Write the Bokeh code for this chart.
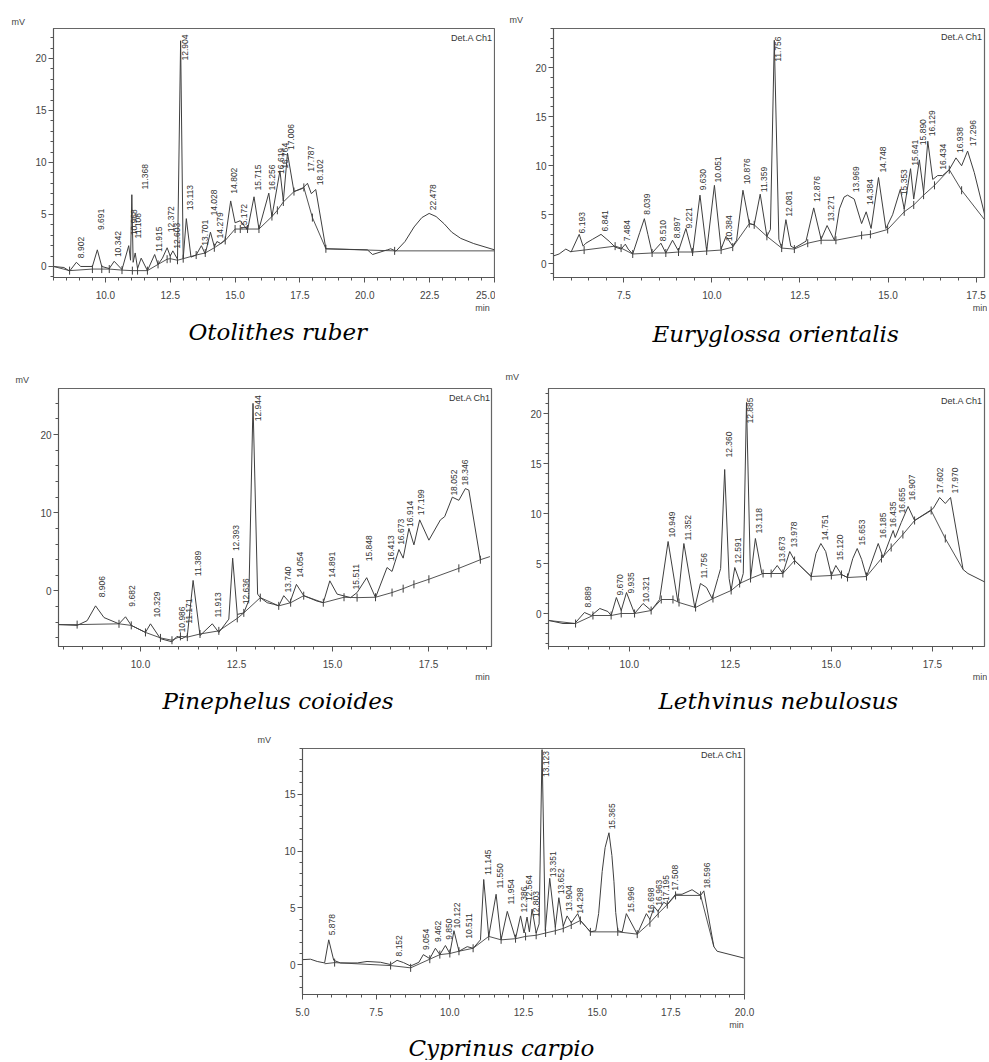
import numpy as np
from bokeh.plotting import figure
from bokeh.models import (Range1d, SingleIntervalTicker, FixedTicker, PrintfTickFormatter, Label,
                          Spacer, Title, LinearAxis)
from bokeh.layouts import column, row
from bokeh.core.properties import value
from bokeh.embed import file_html
from bokeh.resources import INLINE

# ---------------- data (time in min, signal in mV) ----------------
# Otolithes ruber
or_trace = [(8.00,0.0),(8.40,-0.1),(8.62,-0.45),(8.88,0.4),(9.05,0.0),(9.50,0.0),(9.69,1.6),(9.86,0.0),
            (10.15,-0.2),(10.34,0.5),(10.64,-0.3),(10.90,2.0),(10.97,0.6),(11.02,6.9),(11.07,0.4),(11.15,1.3),
            (11.24,-0.2),(11.38,0.8),(11.62,-0.4),(11.90,1.15),(12.03,0.2),(12.20,0.8),(12.38,1.8),(12.50,1.0),
            (12.60,1.5),(12.78,0.7),(12.90,21.7),(13.00,0.75),(13.12,4.6),(13.30,0.9),(13.50,1.1),(13.70,2.0),
            (13.85,1.2),(14.05,3.3),(14.20,1.9),(14.30,2.4),(14.45,2.2),(14.62,2.6),(14.83,6.3),(15.00,4.2),
            (15.20,4.4),(15.48,3.5),(15.73,6.7),(15.92,3.6),(16.30,7.05),(16.42,4.8),(16.73,9.2),(16.86,6.3),
            (17.02,10.9),(17.27,7.2),(17.60,7.5),(17.79,8.0),(17.94,7.0),(18.11,7.4),(18.50,1.7),(20.10,1.6),
            (20.30,1.15),(20.87,1.6),(21.00,1.7),(21.20,1.47),(21.55,2.4),(21.90,3.8),(22.20,4.7),(22.48,5.1),
            (22.75,4.8),(23.06,4.1),(23.35,3.3),(23.70,2.7),(24.20,2.2),(25.00,1.6)]
or_base = [(8.00,0.0),(8.62,-0.4),(9.50,-0.25),(9.86,-0.25),(10.15,-0.25),(10.64,-0.35),(11.04,-0.4),
           (11.24,-0.4),(11.62,-0.4),(12.03,0.2),(12.38,0.7),(12.50,0.75),(12.78,0.6),(13.00,0.75),(13.50,1.1),
           (13.85,1.3),(14.20,1.8),(14.62,2.5),(15.00,3.6),(15.20,3.6),(15.48,3.6),(15.92,3.6),(16.42,4.8),
           (16.63,5.4),(16.86,6.2),(17.27,7.2),(17.65,7.6),(17.98,4.7),(18.50,1.7),(21.15,1.5),(25.00,1.5)]
or_rt = ["8.902","9.691","10.342","10.968","11.108","11.368","11.915","12.372","12.603","12.904","13.113",
         "13.701","14.028","14.279","14.802","15.172","15.715","16.256","16.619","16.764","17.006","17.787",
         "18.102","22.478"]
or_lab = [0.8,3.5,0.9,3.0,2.7,7.4,1.4,3.3,1.7,19.8,5.4,2.0,4.9,2.7,7.0,3.5,7.3,7.3,8.9,9.4,11.2,9.1,7.8,5.4]

# Euryglossa orientalis
eo_trace = [(5.50,0.8),(5.66,1.0),(5.85,1.5),(6.00,1.2),(6.23,3.0),(6.34,1.8),(6.42,2.1),(6.61,2.5),
            (6.85,3.0),(7.08,2.3),(7.25,1.7),(7.42,1.5),(7.54,2.0),(7.62,1.5),(7.75,1.0),(7.95,3.2),(8.08,4.6),
            (8.18,3.0),(8.30,1.1),(8.55,2.1),(8.69,1.1),(8.88,2.4),(9.05,1.3),(9.26,3.6),(9.45,1.0),(9.66,7.0),
            (9.85,1.3),(10.07,8.0),(10.26,1.5),(10.40,2.8),(10.59,1.8),(10.70,2.4),(10.88,7.5),(11.06,4.1),
            (11.20,3.97),(11.37,7.1),(11.56,2.8),(11.66,3.5),(11.77,22.8),(11.90,2.5),(11.98,1.6),(12.10,4.5),
            (12.24,1.8),(12.34,1.6),(12.67,2.3),(12.89,5.7),(13.10,2.5),(13.27,3.9),(13.48,2.4),(13.62,5.6),
            (13.75,6.8),(13.85,7.0),(14.04,6.6),(14.25,4.1),(14.38,5.3),(14.52,3.6),(14.73,8.8),(14.94,3.6),
            (15.13,5.0),(15.35,7.6),(15.46,5.6),(15.64,9.7),(15.73,6.6),(15.89,10.6),(16.01,7.3),(16.13,12.5),
            (16.27,8.6),(16.41,9.0),(16.55,9.0),(16.74,9.6),(16.93,10.8),(17.09,10.0),(17.26,11.5),(17.45,9.3),
            (17.78,4.5),(17.93,4.3)]
eo_base = [(5.99,1.24),(6.37,1.4),(7.25,1.8),(7.42,1.6),(7.75,1.0),(8.30,1.1),(8.69,1.1),(9.05,1.2),
           (9.45,1.2),(9.85,1.3),(10.26,1.4),(10.59,1.7),(11.06,4.1),(11.20,3.97),(11.56,2.8),(11.98,1.6),
           (12.34,1.5),(12.72,2.1),(13.10,2.4),(13.52,2.4),(14.25,2.9),(14.50,3.0),(14.99,3.5),(15.46,5.3),
           (15.73,6.0),(16.01,7.0),(16.32,8.0),(16.74,9.6),(17.09,7.5),(17.74,4.5)]
eo_rt = ["6.193","6.841","7.484","8.039","8.510","8.897","9.221","9.630","10.051","10.384","10.876","11.359",
         "11.756","12.081","12.876","13.271","13.969","14.384","14.748","15.353","15.641","15.890","16.129",
         "16.434","16.938","17.296"]
eo_lab = [3.1,3.3,2.3,5.0,2.3,2.6,3.6,7.5,8.3,2.3,8.1,7.3,20.6,4.8,6.3,4.3,7.3,6.0,9.3,7.0,10.0,12.1,13.0,
          9.6,11.3,12.0]

# Pinephelus coioides
pc_trace = [(7.87,-4.3),(8.35,-4.4),(8.61,-3.8),(8.83,-1.9),(9.05,-3.4),(9.44,-4.2),(9.61,-3.3),(9.76,-4.4),
            (10.13,-5.3),(10.26,-4.2),(10.52,-6.1),(10.82,-6.5),(10.95,-5.8),(11.08,-6.1),(11.22,-5.7),
            (11.37,1.35),(11.55,-5.7),(11.87,-4.2),(12.04,-5.3),(12.30,-3.6),(12.40,4.2),(12.52,-3.0),
            (12.69,-2.8),(12.82,-1.2),(12.93,24.0),(13.05,-0.4),(13.12,-0.85),(13.30,-1.5),(13.47,-1.7),
            (13.60,-1.9),(13.73,-0.6),(13.89,-1.5),(14.06,0.85),(14.25,-0.6),(14.60,-1.3),(14.76,-1.5),
            (14.93,1.3),(15.12,-0.4),(15.47,-0.85),(15.64,-0.2),(15.89,1.7),(16.12,-0.85),(16.42,3.0),
            (16.55,2.5),(16.73,5.3),(16.84,4.2),(16.99,8.0),(17.12,5.9),(17.27,9.1),(17.51,6.5),(17.81,9.1),
            (17.92,9.5),(18.12,12.0),(18.29,11.6),(18.46,13.1),(18.55,12.9),(18.85,4.0)]
pc_base = [(7.87,-4.3),(8.35,-4.3),(9.44,-4.2),(9.76,-4.4),(10.13,-5.3),(10.52,-6.0),(10.82,-6.3),
           (11.04,-5.8),(11.22,-5.9),(11.55,-5.5),(12.04,-5.1),(12.52,-3.5),(12.69,-2.8),(13.12,-0.85),
           (13.60,-1.9),(13.91,-1.5),(14.25,-0.6),(14.76,-1.5),(15.30,-0.8),(15.64,-0.85),(16.12,-0.8),
           (16.55,-0.2),(16.84,0.3),(17.12,0.85),(17.51,1.5),(18.29,2.9),(18.85,4.0),(19.10,4.4)]
pc_rt = ["8.906","9.682","10.329","10.986","11.171","11.389","11.913","12.393","12.636","12.944","13.740",
         "14.054","14.891","15.511","15.848","16.413","16.673","16.914","17.199","18.052","18.346"]
pc_lab = [-0.8,-2.0,-3.4,-5.3,-4.2,1.9,-3.4,5.1,-1.7,21.7,-0.2,1.7,1.7,0.2,3.8,3.8,5.9,8.2,9.7,12.2,13.5]

# Lethvinus nebulosus
ln_trace = [(8.01,-0.7),(8.36,-1.0),(8.65,-1.0),(8.89,0.1),(9.06,-0.2),(9.27,0.5),(9.47,0.2),(9.55,-0.2),
            (9.68,1.6),(9.80,0.3),(9.93,2.1),(10.13,0.0),(10.34,1.0),(10.54,0.3),(10.75,1.4),(10.96,7.2),
            (11.20,1.2),(11.35,7.0),(11.62,0.6),(11.76,3.0),(11.91,2.6),(12.05,1.5),(12.19,3.5),(12.26,4.5),
            (12.36,14.4),(12.47,3.5),(12.52,2.3),(12.61,4.6),(12.75,3.0),(12.82,4.0),(12.90,21.1),(13.00,3.5),
            (13.12,7.5),(13.28,4.0),(13.51,4.0),(13.66,4.8),(13.80,4.0),(13.97,6.2),(14.09,5.3),(14.50,3.7),
            (14.62,6.0),(14.74,7.0),(14.86,6.2),(15.00,3.8),(15.11,4.8),(15.25,3.9),(15.40,3.6),(15.53,5.5),
            (15.64,6.5),(15.75,5.4),(15.87,3.7),(16.16,7.0),(16.28,5.6),(16.53,8.3),(16.58,7.6),(16.73,9.1),
            (16.90,10.7),(17.06,9.3),(17.52,10.5),(17.68,11.6),(17.82,11.0),(17.95,11.6),(18.26,4.4),
            (18.38,4.0),(18.92,2.9)]
ln_base = [(8.01,-0.7),(8.67,-1.0),(9.10,-0.2),(9.55,-0.2),(9.80,0.0),(10.13,0.0),(10.54,0.3),(10.79,1.4),
           (11.08,1.4),(11.23,1.1),(11.64,0.6),(12.07,1.5),(12.52,2.3),(12.73,3.0),(13.00,3.5),(13.31,4.0),
           (13.51,4.0),(13.80,4.0),(14.09,5.3),(14.50,3.7),(15.00,3.8),(15.25,3.9),(15.40,3.6),(15.87,3.7),
           (16.24,5.5),(16.48,6.6),(16.77,7.9),(17.06,9.3),(17.47,10.3),(17.82,7.5),(18.26,4.4)]
ln_rt = ["8.889","9.670","9.935","10.321","10.949","11.352","11.756","12.360","12.591","12.885","13.118",
         "13.673","13.978","14.751","15.120","15.653","16.185","16.435","16.655","16.907","17.602","17.970"]
ln_lab = [0.6,1.8,2.0,1.1,7.6,7.3,3.5,15.6,5.0,19.0,8.0,5.1,6.6,7.3,5.3,6.8,7.5,8.6,10.0,11.3,12.0,12.0]

# Cyprinus carpio
cc_trace = [(5.00,0.46),(5.27,0.5),(5.50,0.3),(5.75,0.17),(5.89,2.2),(6.06,0.4),(6.29,0.17),(6.86,0.17),
            (7.19,0.3),(7.65,0.23),(7.99,0.03),(8.21,0.4),(8.43,0.2),(8.67,-0.1),(8.95,0.23),(9.10,0.9),
            (9.32,0.55),(9.51,1.46),(9.66,0.9),(9.85,1.7),(10.00,1.0),(10.14,3.0),(10.31,1.2),(10.59,1.6),
            (10.79,1.46),(11.04,2.2),(11.15,7.5),(11.32,2.5),(11.57,6.2),(11.74,2.2),(11.95,4.7),(12.23,2.3),
            (12.40,4.3),(12.52,2.8),(12.62,4.2),(12.70,2.9),(12.79,4.9),(12.93,2.8),(13.03,3.6),(13.13,18.9),
            (13.24,3.0),(13.39,7.6),(13.58,3.3),(13.70,5.9),(13.85,3.4),(13.98,4.3),(14.12,3.7),(14.34,4.5),
            (14.43,3.9),(14.77,2.9),(14.95,3.0),(15.05,4.5),(15.17,8.2),(15.27,10.3),(15.40,11.6),(15.50,9.6),
            (15.57,7.3),(15.63,4.6),(15.70,3.0),(15.85,2.9),(15.99,4.5),(16.36,2.7),(16.67,4.5),(16.79,4.0),
            (16.94,5.1),(17.06,4.7),(17.26,5.5),(17.38,5.3),(17.66,6.2),(17.88,6.2),(18.22,6.6),(18.51,6.1),
            (18.62,6.5),(18.96,1.6),(19.07,1.2),(19.98,0.6)]
cc_base = [(5.75,0.1),(6.09,0.2),(7.99,-0.06),(8.67,-0.26),(9.32,0.5),(9.66,0.9),(10.00,1.0),(10.31,1.2),
           (10.79,1.46),(11.32,2.5),(11.74,2.2),(12.23,2.3),(12.57,2.5),(12.93,2.6),(13.25,2.8),(13.58,3.0),
           (13.85,3.2),(14.12,3.5),(14.43,3.9),(14.77,2.9),(15.70,2.9),(16.36,2.7),(16.79,3.7),(17.07,4.5),
           (17.38,5.3),(17.66,6.1),(18.51,6.1),(18.96,1.6)]
cc_rt = ["5.878","8.152","9.054","9.462","9.850","10.122","10.511","11.145","11.550","11.954","12.386",
         "12.564","12.803","13.123","13.351","13.652","13.904","14.298","15.365","15.996","16.698","16.963",
         "17.195","17.508","18.596"]
cc_lab = [2.6,0.74,1.3,2.0,2.2,3.2,2.3,7.9,6.7,5.3,4.6,5.6,4.2,16.5,7.7,6.2,4.7,4.5,11.9,4.6,4.5,5.2,5.6,6.5,6.7]

titles = ["Otolithes ruber", "Euryglossa orientalis", "Pinephelus coioides", "Lethvinus nebulosus", "Cyprinus carpio"]

# ---------------- layout / style (pixels) ----------------
cfgs = [
    dict(w=495, h=353, bl=53, br=1, bt=28, bb=76, xr=(8.0, 25.0), yr=(-1.06, 22.88), yint=5,
         mv_off=-42, mv_so=3, det=(-2, 9), mn_px=-12, t_off=135, t_so=2),
    dict(w=492, h=353, bl=58, br=3, bt=23, bb=76, xr=(5.5, 17.74), yr=(-1.4, 24.0), yint=5,
         mv_off=-44, mv_so=7, det=(-2, 9), mn_px=-4, t_off=99, t_so=6),
    dict(w=495, h=363, bl=58, br=4, bt=32, bb=70, xr=(7.865, 19.14), yr=(-7.1, 25.9), yint=10,
         mv_off=-43, mv_so=7, det=(-1, 10), mn_px=-9, t_off=104, t_so=2),
    dict(w=492, h=363, bl=53, br=3, bt=35, bb=70, xr=(8.0, 18.79), yr=(-3.3, 22.5), yint=5,
         mv_off=-43, mv_so=14, det=(-2, 12), mn_px=-4, t_off=110, t_so=2),
    dict(w=524, h=344, bl=52, br=30, bt=32, bb=62, xr=(5.0, 20.0), yr=(-2.6, 19.0), yint=5,
         mv_off=-45, mv_so=8, det=(-2, 7), mn_px=-8, t_off=106, t_so=0),
]

INK = "#3f3f3f"
AX_FONT = "Liberation Sans"


def make_panel(trace, base, rts, labs, title, c):
    p = figure(width=c["w"], height=c["h"], x_range=Range1d(*c["xr"]), y_range=Range1d(*c["yr"]),
               output_backend="svg", toolbar_location=None,
               min_border_left=c["bl"], min_border_right=c["br"],
               min_border_top=c["bt"], min_border_bottom=c["bb"])
    p.xgrid.visible = False
    p.ygrid.visible = False
    p.outline_line_color = "#666666"
    p.outline_line_width = 1.2
    p.background_fill_color = "white"
    p.border_fill_color = "white"

    p.xaxis.ticker = SingleIntervalTicker(interval=2.5, num_minor_ticks=5)
    p.xaxis.formatter = PrintfTickFormatter(format="%.1f")
    p.yaxis.ticker = SingleIntervalTicker(interval=c["yint"], num_minor_ticks=5)
    p.yaxis.formatter = PrintfTickFormatter(format="%d")
    for ax in (p.xaxis, p.yaxis):
        ax.axis_line_color = "#555555"
        ax.major_tick_line_color = "#555555"
        ax.minor_tick_line_color = "#555555"
        ax.major_tick_in = 0
        ax.major_tick_out = 5
        ax.minor_tick_in = 0
        ax.minor_tick_out = 3
        ax.major_label_text_font = AX_FONT
        ax.major_label_text_font_size = "10px"
        ax.major_label_text_color = "#444444"
    p.xaxis.major_label_standoff = 8
    p.yaxis.major_label_standoff = 2

    fw = c["w"] - c["bl"] - c["br"]
    fh = c["h"] - c["bt"] - c["bb"]
    sx = (c["xr"][1] - c["xr"][0]) / fw
    sy = (c["yr"][1] - c["yr"][0]) / fh

    t, mv = zip(*trace)
    p.line(list(t), list(mv), line_color=INK, line_width=1)
    bt, bm = zip(*base)
    p.line(list(bt), list(bm), line_color=INK, line_width=0.9)
    p.scatter(list(bt[1:-1]), list(bm[1:-1]), marker="dash", angle=np.pi / 2, size=8,
              line_color=INK, line_width=1)
    p.text(x=[float(r) for r in rts], y=labs, text=rts, angle=np.pi / 2, x_offset=1,
           text_font=value("Liberation Sans"), text_font_size="8.5px", text_color="#333333",
           text_align="left", text_baseline="top")

    # detector label inside the frame
    p.add_layout(Label(x=c["xr"][1] + c["det"][0] * sx, y=c["yr"][1] - c["det"][1] * sy,
                       text="Det.A Ch1", text_font=AX_FONT, text_font_size="9px",
                       text_color="#333333", text_align="right", text_baseline="middle"))

    # "min" unit under the right end of the time axis
    unit_axis = LinearAxis(ticker=FixedTicker(ticks=[c["xr"][1] + c["mn_px"] * sx]),
                           formatter=PrintfTickFormatter(format="min"),
                           axis_line_color=None, major_tick_line_color=None,
                           minor_tick_line_color=None, major_tick_out=0, major_tick_in=0,
                           minor_tick_out=0, minor_tick_in=0, major_label_standoff=1,
                           major_label_text_font=AX_FONT, major_label_text_font_size="9px",
                           major_label_text_color="#444444")
    p.add_layout(unit_axis, "below")

    # species name under the chart
    p.add_layout(Title(text=title, align="left", offset=c["t_off"], standoff=c["t_so"],
                       text_font="DejaVu Serif", text_font_style="italic", text_font_size="23px",
                       text_color="#000000"), "below")

    # "mV" unit above the signal axis
    p.add_layout(Title(text="mV", align="left", offset=c["mv_off"], standoff=c["mv_so"],
                       text_font=AX_FONT, text_font_size="9px", text_font_style="normal",
                       text_color="#444444"), "above")
    return p


p1 = make_panel(or_trace, or_base, or_rt, or_lab, titles[0], cfgs[0])
p2 = make_panel(eo_trace, eo_base, eo_rt, eo_lab, titles[1], cfgs[1])
p3 = make_panel(pc_trace, pc_base, pc_rt, pc_lab, titles[2], cfgs[2])
p4 = make_panel(ln_trace, ln_base, ln_rt, ln_lab, titles[3], cfgs[3])
p5 = make_panel(cc_trace, cc_base, cc_rt, cc_lab, titles[4], cfgs[4])

page = column(row(p1, p2), row(p3, p4), row(Spacer(width=250, height=344), p5))
open("out.html", "w").write(file_html(page, INLINE))
